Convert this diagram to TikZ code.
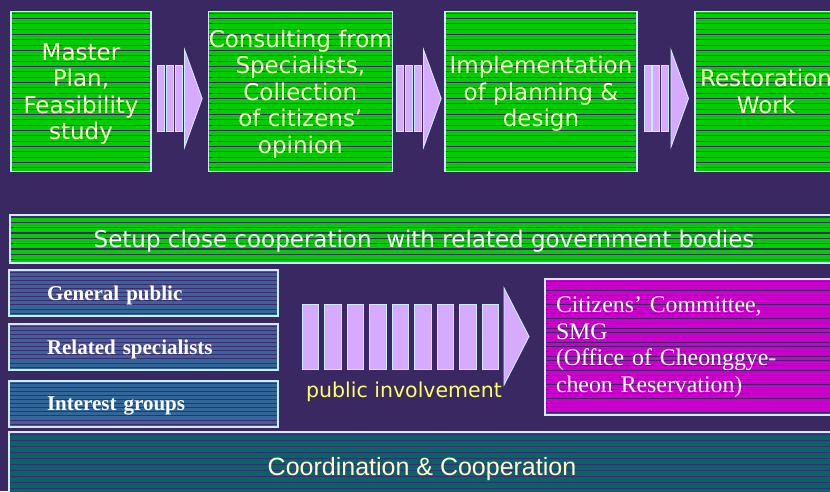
\documentclass[tikz,border=0pt]{standalone}
\usepackage{fontspec}
\setmainfont{Liberation Serif}
\newfontfamily\boxfont{DejaVu Sans}
\newfontfamily\bandfont{Liberation Sans}
\usetikzlibrary{positioning}
\usetikzlibrary{calc}
\definecolor{bgpurple}{RGB}{58,40,98}
\definecolor{stagegreen}{RGB}{0,204,0}
\definecolor{groupblue}{RGB}{51,102,153}
\definecolor{committeemag}{RGB}{204,0,204}
\definecolor{coordteal}{RGB}{0,102,102}
\definecolor{stripepurple}{RGB}{70,38,110}
\definecolor{edgeblue}{RGB}{204,236,255}
\definecolor{barlilac}{RGB}{214,170,255}
\definecolor{paleyellow}{RGB}{255,255,204}
\definecolor{brightyellow}{RGB}{255,255,102}

\begin{document}
\begin{tikzpicture}[x=1pt,y=-1pt]
		\tikzset{
			panel/.style={draw=edgeblue,line width=1.1pt,inner sep=0pt,outer sep=0pt},
		}
		\tikzset{
			stripes/.style n args={3}{path picture={
				\foreach \k in {0,...,40}
					\draw[#2,line width=#3] ([yshift=-\k*#1-2pt]path picture bounding box.north west) -- ([yshift=-\k*#1-2pt]path picture bounding box.north east);
			}},
		}
		\tikzset{
			stagebox/.style={panel,text depth=0pt,fill=stagegreen,stripes={5.33pt}{stripepurple}{1.1pt},minimum height=160.5pt,
				text=paleyellow,align=center,font={\boxfont\fontsize{23}{26.5}\selectfont}},
			bandbox/.style={panel,text depth=0pt,fill=stagegreen,stripes={5.33pt}{stripepurple}{1.1pt},minimum height=48pt,
				text=white,font={\boxfont\fontsize{23}{26}\selectfont}},
			groupbox/.style={panel,text depth=0pt,fill=groupblue,stripes={4.1pt}{stripepurple}{0.7pt},minimum width=269pt,minimum height=46pt,
				text=white,text width=193pt,align=left,font={\bfseries\fontsize{21}{24}\selectfont}},
			committeebox/.style={panel,fill=committeemag,stripes={4.7pt}{bgpurple}{1pt},minimum width=300pt,minimum height=136pt,
				text=white,text width=278pt,align=left,font={\fontsize{23.8}{26.5}\selectfont}},
			coordbox/.style={panel,text depth=0pt,fill=coordteal,stripes={6.1pt}{stripepurple}{0.9pt},minimum width=826pt,minimum height=68pt,
				text=paleyellow,font={\bandfont\fontsize{25}{28}\selectfont}},
			barpart/.style={draw=edgeblue,fill=barlilac,line width=0.9pt},
		}
		\newcommand{\chevron}[1]{
			\begin{scope}[shift={(#1)}]
				\foreach \b in {-22,-13.3,-4.6}
					\draw[barpart] (\b,-33) rectangle ++(7,66);
				\draw[barpart] (5,-48.5) -- (22.5,0) -- (5,48.5) -- cycle;
			\end{scope}
		}
		
		\fill[bgpurple] (0,0) rectangle (830,491);
		\useasboundingbox (0,0) rectangle (830,491);
		
		% stages along the top
		\node[stagebox,minimum width=140pt] (plan) at (81,91.5) {Master\\Plan,\\Feasibility\\study};
		\node[stagebox,minimum width=184pt] (consult) at (300.3,91.5) {Consulting from\\Specialists,\\Collection\\of citizens’\\opinion};
		\node[stagebox,minimum width=192pt] (implement) at (541,91.5) {Implementation\\of planning \&\\design};
		\node[stagebox,minimum width=142pt] (restore) at (766,91.5) {Restoration\\Work};
		
		\chevron{$(plan.east)!0.5!(consult.west)+(0,7)$}
		\chevron{$(consult.east)!0.5!(implement.west)+(0,7)$}
		\chevron{$(implement.east)!0.5!(restore.west)+(0,7)$}
		
		\node[bandbox,minimum width=828pt] (setup) at (424,239) {Setup close cooperation\ \ with related government bodies};
		
		% participants
		\node[groupbox] (general) at (143.5,293) {General public};
		\node[groupbox,below=8pt of general] (specialists) {Related specialists};
		\node[groupbox,below=11pt of specialists] (interest) {Interest groups};
		
		\node[committeebox] (committee) at (695,347) {Citizens’ Committee,\\SMG\\(Office of Cheonggye-\\cheon Reservation)};
		
		\coordinate (flow) at ($(specialists.east)!0.5!(committee.west)$);
		\foreach \i in {0,...,8}
			\draw[barpart] ($(flow)+(-109.5+\i*22.5,-43)$) rectangle ++(16.5,65);
		\draw[barpart] ($(flow)+(92.5,-59)$) -- ($(flow)+(117.5,-10.5)$) -- ($(flow)+(92.5,38)$) -- cycle;
		\node[text=brightyellow,font={\boxfont\fontsize{20.5}{24}\selectfont}] (involve) at ($(flow)+(-7.5,45)$) {public involvement};
		
		\node[coordbox] (coord) at (422,466) {Coordination \& Cooperation};
	\end{tikzpicture}
\end{document}
